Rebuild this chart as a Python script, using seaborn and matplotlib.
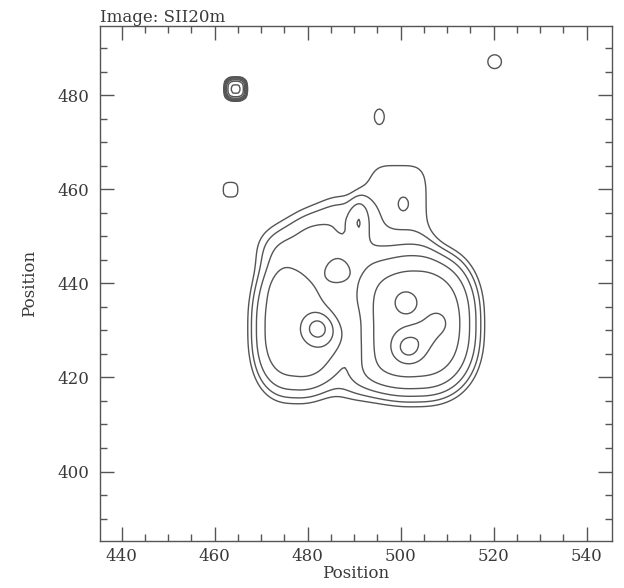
import numpy as np
import matplotlib
matplotlib.use("Agg")
import matplotlib.pyplot as plt
import seaborn as sns

# Emission components: centre (x, y), peak value, widths,
# outline squareness (norm exponent) and edge sharpness (profile exponent)
comp_x     = [477.0, 503.5, 482.0, 486.0, 486.2, 475.5, 489.0, 486.5,
              501.0, 501.7, 505.0, 508.0,
              499.5, 473.5, 480.5, 487.5, 491.0, 491.5, 500.6, 490.0,
              464.5, 463.4, 495.4, 520.2]
comp_y     = [430.5, 431.3, 430.4, 429.0, 442.5, 439.0, 437.0, 447.0,
              436.1, 426.5, 429.0, 431.5,
              456.5, 447.5, 450.8, 454.2, 453.0, 443.5, 456.9, 420.0,
              481.3, 459.9, 475.4, 487.1]
comp_amp   = [4.2, 6.8, 4.5, 2.2, 3.3, 0.8, 1.2, 1.3,
              2.2, 7.0, 1.8, 1.8,
              1.3, 1.5, 1.8, 1.6, 1.7, 1.6, 0.4, 1.8,
              12.0, 1.4, 1.4, 1.4]
comp_sx    = [7.6, 10.4, 1.9, 3.0, 2.0, 2.5, 2.5, 3.0,
              1.8, 2.0, 1.8, 1.8,
              7.0, 4.0, 4.0, 4.0, 1.5, 3.5, 0.9, 5.0,
              1.7, 1.9, 1.3, 1.8]
comp_sy    = [12.3, 12.5, 1.9, 3.5, 2.0, 2.5, 3.5, 2.5,
              1.8, 2.0, 1.8, 1.8,
              10.0, 4.0, 4.0, 4.0, 3.5, 4.5, 1.2, 4.0,
              1.7, 1.9, 2.0, 1.8]
comp_norm  = [2.5, 2.5, 2.0, 2.0, 2.0, 2.0, 2.0, 2.0,
              2.0, 2.0, 2.0, 2.0,
              4.0, 2.0, 2.0, 2.0, 2.0, 2.0, 2.0, 2.0,
              3.0, 3.0, 2.0, 2.0]
comp_sharp = [2.0, 2.0, 1.0, 1.0, 1.0, 1.0, 1.0, 1.0,
              1.0, 1.0, 1.0, 1.0,
              2.0, 1.0, 1.0, 1.0, 1.0, 1.0, 1.0, 1.0,
              2.0, 1.0, 1.0, 1.0]

contour_levels = [1.0, 1.5, 2.25, 3.375, 5.06, 7.59, 11.39, 17.09, 25.63]
x_ticks = [440, 460, 480, 500, 520, 540]
y_ticks = [400, 420, 440, 460, 480]
title_text = "Image: SII20m"
x_label = "Position"
y_label = "Position"

sns.set_theme(style="ticks")
plt.rcParams["font.family"] = ["DejaVu Serif"]
ink = "#555555"
text_col = "#3a3a3a"

# image grid
gx = np.arange(428.0, 552.0, 0.5)
gy = np.arange(380.0, 500.0, 0.5)
GX, GY = np.meshgrid(gx, gy)
field = np.zeros_like(GX)
for cx, cy, a, sx, sy, q, p in zip(comp_x, comp_y, comp_amp, comp_sx, comp_sy,
                                   comp_norm, comp_sharp):
    r = (np.abs(GX - cx) / sx) ** q + (np.abs(GY - cy) / sy) ** q
    r = r ** (1.0 / q)
    field += a * np.exp(-0.5 * r ** (2 * p))

fig = plt.figure(figsize=(6.24, 5.88), dpi=100)
ax = fig.add_axes([0.1603, 0.0804, 0.8200, 0.8759])
ax.contour(gx, gy, field, levels=contour_levels, colors=ink, linewidths=1.0)

ax.set_xlim(435.33, 545.38)
ax.set_ylim(385.3, 494.75)
ax.set_xticks(x_ticks)
ax.set_yticks(y_ticks)
ax.set_xticks(np.arange(440, 545, 5), minor=True)
ax.set_yticks(np.arange(390, 495, 5), minor=True)
ax.tick_params(which="both", direction="in", top=True, right=True, color=ink, width=1.0,
               labelsize=12, labelcolor=text_col)
ax.tick_params(axis="x", which="both", pad=5)
ax.tick_params(axis="y", which="both", pad=8)
ax.tick_params(which="major", length=10)
ax.tick_params(which="minor", length=5)
for s in ax.spines.values():
    s.set_color(ink)
    s.set_linewidth(1.0)

ax.set_xlabel(x_label, fontsize=12, color=text_col, labelpad=0)
ax.set_ylabel(y_label, fontsize=12, color=text_col, labelpad=14)
ax.set_title(title_text, loc="left", fontsize=12, color=text_col, pad=3)

fig.savefig("out.png", dpi=100)
